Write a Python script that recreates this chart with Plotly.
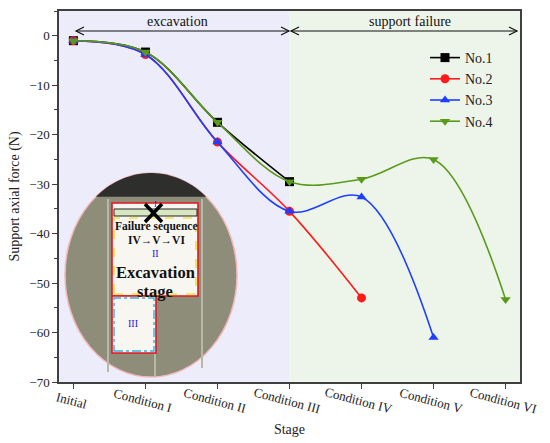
import plotly.graph_objects as go
import numpy as np

# ---------------- data ----------------
stages = ["Initial", "Condition I", "Condition II", "Condition III",
          "Condition IV", "Condition V", "Condition VI"]
no1 = [-1.0, -3.3, -17.5, -29.5]
no2 = [-1.0, -3.8, -21.5, -35.5, -53.0]
no3 = [-1.0, -3.8, -21.5, -35.5, -32.6, -61.0]
no4 = [-1.0, -3.3, -17.5, -29.5, -29.0, -25.0, -53.3]
series_names = ["No.1", "No.2", "No.3", "No.4"]
series_colors = ["#000000", "#ff1a1a", "#1f3fff", "#5a9a1a"]
series_symbols = ["square", "circle", "triangle-up", "triangle-down"]
series_values = [no1, no2, no3, no4]

FONT = "Liberation Serif"
W, H = 550, 443
ML, MR, MT, MB = 59, 30, 11, 61
PW, PH = W - ML - MR, H - MT - MB
XR = [-0.2, 6.2]


def px(x):
    return (x - ML) / PW


def py(y):
    return (H - MB - y) / PH


fig = go.Figure()

for name, col, sym, vals in zip(series_names, series_colors, series_symbols, series_values):
    fig.add_trace(go.Scatter(
        x=stages[:len(vals)], y=vals, name=name, mode="lines+markers",
        line=dict(color=col, width=1.6, shape="spline", smoothing=1.0),
        marker=dict(symbol=sym, size=9, color=col),
    ))

shapes = []
# background regions
shapes.append(dict(type="rect", xref="x", yref="paper", x0=XR[0], x1=3, y0=0, y1=1,
                   fillcolor="#ececfa", line=dict(width=0), layer="below"))
shapes.append(dict(type="rect", xref="x", yref="paper", x0=3, x1=XR[1], y0=0, y1=1,
                   fillcolor="#edf5ea", line=dict(width=0), layer="below"))

# inset photo (approximation)
cx, cy, rx, ry = 151, 275, 86, 102
shapes.append(dict(type="circle", xref="paper", yref="paper",
                   x0=px(cx - rx), x1=px(cx + rx), y0=py(cy + ry), y1=py(cy - ry),
                   fillcolor="#8e8d7a", line=dict(color="#f2b8b8", width=1.5), layer="below"))
# dark top of photo
ycut = 198
t = np.linspace(0, np.pi, 80)
ex = cx + rx * np.cos(t)
ey = cy - ry * np.sin(t)
pts = [(x, y) for x, y in zip(ex, ey) if y <= ycut]
path = "M " + " L ".join(f"{px(x):.4f},{py(y):.4f}" for x, y in pts) + " Z"
shapes.append(dict(type="path", xref="paper", yref="paper", path=path,
                   fillcolor="#2e2e2c", line=dict(width=0), layer="below"))
# light streaks
for x0, y0, y1 in [(108, 199, 372), (202, 199, 368), (155, 354, 377)]:
    shapes.append(dict(type="line", xref="paper", yref="paper",
                       x0=px(x0), x1=px(x0), y0=py(y0), y1=py(y1),
                       line=dict(color="#b8b8aa", width=2), layer="below"))
# upper rectangle
shapes.append(dict(type="rect", xref="paper", yref="paper",
                   x0=px(112), x1=px(198), y0=py(296), y1=py(203),
                   fillcolor="#f7f6f0", line=dict(color="#e8141c", width=1.6), layer="below"))
shapes.append(dict(type="rect", xref="paper", yref="paper",
                   x0=px(114), x1=px(196), y0=py(294), y1=py(218),
                   fillcolor="rgba(0,0,0,0)", line=dict(color="#f0d800", width=1.2, dash="dash"),
                   layer="below"))
# lower rectangle
shapes.append(dict(type="rect", xref="paper", yref="paper",
                   x0=px(112), x1=px(156), y0=py(353), y1=py(296),
                   fillcolor="#f7f6f0", line=dict(color="#e8141c", width=1.6), layer="below"))
shapes.append(dict(type="rect", xref="paper", yref="paper",
                   x0=px(114), x1=px(154), y0=py(351), y1=py(298),
                   fillcolor="rgba(0,0,0,0)", line=dict(color="#3ab0e0", width=1.4, dash="dashdot"),
                   layer="below"))
# green bar
shapes.append(dict(type="rect", xref="paper", yref="paper",
                   x0=px(114), x1=px(197), y0=py(216), y1=py(209),
                   fillcolor="#d9e6c2", line=dict(color="#222222", width=1), layer="below"))
# X mark
for a, b in [((145, 204), (162, 222)), ((162, 204), (145, 222))]:
    shapes.append(dict(type="line", xref="paper", yref="paper",
                       x0=px(a[0]), y0=py(a[1]), x1=px(b[0]), y1=py(b[1]),
                       line=dict(color="#000000", width=3.5)))

# top double arrows
ya = 31
for xl, xr in [(76, 289), (291, 517)]:
    shapes.append(dict(type="line", xref="paper", yref="paper",
                       x0=px(xl), x1=px(xr), y0=py(ya), y1=py(ya),
                       line=dict(color="#111111", width=1.2)))
    for tip, d in [(xl, 1), (xr, -1)]:
        p = (f"M {px(tip + d * 8):.4f},{py(ya - 4):.4f} L {px(tip):.4f},{py(ya):.4f} "
             f"L {px(tip + d * 8):.4f},{py(ya + 4):.4f}")
        shapes.append(dict(type="path", xref="paper", yref="paper", path=p,
                           line=dict(color="#111111", width=1.2)))

annotations = [
    dict(text="excavation", x=px(177), y=py(22)),
    dict(text="support failure", x=px(410), y=py(21)),
    dict(text="<b>Failure sequence</b>", x=px(156), y=py(226), size=11.5),
    dict(text="<b>IV→V→VI</b>", x=px(156), y=py(240), size=11.5),
    dict(text="II", x=px(155), y=py(253), size=10, color="#2020e0"),
    dict(text="I", x=px(155), y=py(204), size=8, color="#2020e0"),
    dict(text="<b>Excavation</b>", x=px(155), y=py(272), size=16.5),
    dict(text="<b>stage</b>", x=px(155), y=py(291), size=16.5),
    dict(text="III", x=px(133), y=py(323), size=10, color="#2020e0"),
]
ann = []
for a in annotations:
    ann.append(dict(text=a["text"], x=a["x"], y=a["y"], xref="paper", yref="paper",
                    showarrow=False, xanchor="center", yanchor="middle",
                    font=dict(family=FONT, size=a.get("size", 14), color=a.get("color", "#111111"))))
# rotated category labels centred under their ticks
for i, s in enumerate(stages):
    ann.append(dict(text=s, x=i - 0.03, y=py(400), xref="x", yref="paper",
                    showarrow=False, xanchor="center", yanchor="middle", textangle=15,
                    font=dict(family=FONT, size=13, color="#222222")))

fig.update_layout(
    width=W, height=H,
    margin=dict(l=ML, r=MR, t=MT, b=MB, autoexpand=False),
    paper_bgcolor="white", plot_bgcolor="white",
    font=dict(family=FONT, size=13, color="#222222"),
    shapes=shapes, annotations=ann,
    showlegend=True,
    legend=dict(x=px(425), y=py(42), xanchor="left", yanchor="top",
                bgcolor="rgba(0,0,0,0)", font=dict(family=FONT, size=14, color="#222222"),
                tracegroupgap=0),
)
fig.update_xaxes(
    type="category", range=XR, categoryorder="array", categoryarray=stages,
    automargin=False, showticklabels=False,
    showgrid=False, zeroline=False, showline=True, linecolor="#404040", linewidth=1.5,
    mirror=True, ticks="outside", ticklen=5, tickcolor="#404040",
    title=dict(text="Stage", font=dict(family=FONT, size=14, color="#222222"), standoff=36),
)
fig.update_yaxes(
    range=[-70, 5], tick0=-70, dtick=10, automargin=False,
    showgrid=False, zeroline=False, showline=True, linecolor="#404040", linewidth=1.5,
    mirror=True, ticks="outside", ticklen=5, tickcolor="#404040",
    minor=dict(ticks="outside", ticklen=3, dtick=5, tickcolor="#404040"),
    tickfont=dict(family=FONT, size=13, color="#222222"),
    title=dict(text="Support axial force (N)", font=dict(family=FONT, size=14, color="#222222"),
               standoff=6),
)

fig.write_html("out.html", config={"displayModeBar": False},
               post_script="document.body.style.margin='0';")
